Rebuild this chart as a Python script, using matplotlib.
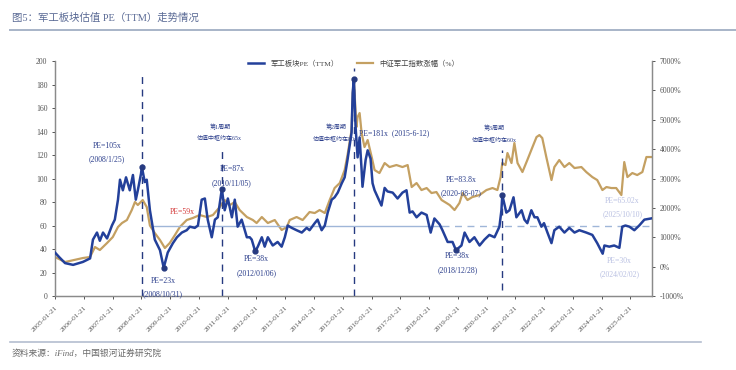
"""
军工板块估值 PE(TTM) 走势 vs 中证军工指数涨幅
"""
import matplotlib
matplotlib.use("Agg")
import matplotlib.pyplot as plt
from matplotlib.lines import Line2D

plt.rcParams['font.family'] = ['Liberation Serif', 'Noto Sans CJK SC', 'DejaVu Sans']

# 军工板块PE(TTM)：横轴为小数年份
pe_year = [2005.05, 2005.20, 2005.40, 2005.68, 2006.02, 2006.27, 2006.37, 2006.51, 2006.61, 2006.72,
           2006.86, 2007.03, 2007.13, 2007.24, 2007.31, 2007.41, 2007.52, 2007.65, 2007.76, 2007.86,
           2007.93, 2008.04, 2008.07, 2008.17, 2008.24, 2008.35, 2008.45, 2008.52, 2008.70, 2008.83,
           2008.97, 2009.15, 2009.29, 2009.46, 2009.63, 2009.74, 2009.91, 2010.02, 2010.15, 2010.26,
           2010.36, 2010.50, 2010.61, 2010.71, 2010.85, 2010.95, 2011.06, 2011.20, 2011.30, 2011.40,
           2011.54, 2011.72, 2011.82, 2011.89, 2012.01, 2012.10, 2012.24, 2012.34, 2012.45, 2012.62,
           2012.79, 2012.93, 2013.04, 2013.14, 2013.28, 2013.45, 2013.63, 2013.80, 2013.90, 2014.08,
           2014.18, 2014.32, 2014.43, 2014.53, 2014.67, 2014.77, 2014.88, 2015.02, 2015.12, 2015.22,
           2015.36, 2015.40, 2015.44, 2015.50, 2015.57, 2015.64, 2015.71, 2015.74, 2015.85, 2015.92,
           2016.02, 2016.09, 2016.16, 2016.27, 2016.40, 2016.51, 2016.61, 2016.79, 2016.96, 2017.13,
           2017.27, 2017.38, 2017.48, 2017.62, 2017.79, 2017.97, 2018.11, 2018.24, 2018.42, 2018.52,
           2018.70, 2018.87, 2018.99, 2019.18, 2019.29, 2019.46, 2019.63, 2019.81, 2019.98, 2020.15,
           2020.33, 2020.50, 2020.57, 2020.60, 2020.74, 2020.85, 2020.99, 2021.09, 2021.27, 2021.37,
           2021.47, 2021.61, 2021.72, 2021.82, 2021.96, 2022.05, 2022.17, 2022.31, 2022.41, 2022.58,
           2022.76, 2022.93, 2023.11, 2023.28, 2023.52, 2023.73, 2023.90, 2024.09, 2024.15, 2024.32,
           2024.49, 2024.67, 2024.77, 2024.88, 2025.02, 2025.19, 2025.36, 2025.54, 2025.77]
pe_value = [37, 33, 28, 26.5, 29, 32, 48, 54, 47, 54,
            49, 60, 65, 82, 99, 90, 101, 90, 103, 82,
            90, 104, 110, 97, 99, 73, 58, 48, 39, 24,
            37, 45, 50, 54, 56, 59, 58, 60, 82, 83,
            65, 50, 65, 67, 91, 73, 83, 67, 82, 59,
            65, 50, 50, 48, 38, 42, 50, 42, 50, 43,
            46, 42, 50, 60, 58, 56, 54, 58, 56, 62,
            65, 56, 60, 71, 82, 84, 88, 96, 101, 116,
            139, 173, 185, 144, 118, 135, 107, 93, 116, 124,
            117, 96, 90, 84, 77, 92, 89, 88, 83, 88,
            90, 71, 72, 67, 71, 69, 54, 66, 61, 56,
            46, 46, 39, 43, 54, 46, 50, 43, 48, 52,
            50, 59, 73, 86, 71, 73, 84, 67, 73, 65,
            62, 73, 67, 67, 59, 62, 54, 45, 56, 59,
            54, 58, 54, 56, 54, 52, 45, 36, 43, 42,
            43, 41, 59, 60, 59, 56, 60, 65, 66]

# 中证军工指数涨幅(%)
idx_year = [2005.05, 2005.40, 2006.02, 2006.27, 2006.44, 2006.61, 2006.86, 2007.06, 2007.24, 2007.38,
            2007.55, 2007.72, 2007.83, 2007.93, 2008.10, 2008.24, 2008.35, 2008.52, 2008.70, 2008.87,
            2009.04, 2009.22, 2009.39, 2009.63, 2009.84, 2010.08, 2010.33, 2010.54, 2010.78, 2010.95,
            2011.13, 2011.30, 2011.47, 2011.72, 2011.93, 2012.06, 2012.24, 2012.45, 2012.69, 2012.93,
            2013.11, 2013.21, 2013.45, 2013.66, 2013.90, 2014.08, 2014.25, 2014.43, 2014.60, 2014.77,
            2014.95, 2015.12, 2015.22, 2015.36, 2015.40, 2015.44, 2015.53, 2015.57, 2015.64, 2015.71,
            2015.81, 2015.92, 2016.06, 2016.16, 2016.33, 2016.51, 2016.68, 2016.92, 2017.13, 2017.31,
            2017.45, 2017.62, 2017.79, 2017.97, 2018.14, 2018.31, 2018.49, 2018.66, 2018.77, 2018.94,
            2019.11, 2019.22, 2019.39, 2019.56, 2019.81, 2020.05, 2020.26, 2020.43, 2020.54, 2020.60,
            2020.71, 2020.78, 2020.92, 2021.02, 2021.13, 2021.30, 2021.47, 2021.65, 2021.79, 2021.89,
            2021.99, 2022.13, 2022.31, 2022.41, 2022.58, 2022.76, 2022.93, 2023.11, 2023.35, 2023.52,
            2023.73, 2023.90, 2024.08, 2024.22, 2024.39, 2024.56, 2024.74, 2024.84, 2024.95, 2025.12,
            2025.29, 2025.47, 2025.61, 2025.78]
idx_value = [328, 157, 293, 328, 668, 566, 804, 1008, 1349, 1485,
             1587, 1927, 2200, 2098, 2268, 2030, 1400, 1144, 906, 634,
             804, 1076, 1349, 1587, 1655, 1757, 1689, 1757, 2030, 2268,
             2098, 2200, 1927, 1689, 1587, 1485, 1689, 1485, 1587, 1247,
             1349, 1587, 1689, 1587, 1859, 1825, 1927, 1825, 2268, 2676,
             2846, 3289, 3800, 4650, 5910, 6350, 4753, 5093, 5230, 4548,
             4072, 4310, 3732, 3289, 3187, 3527, 3391, 3459, 3391, 3459,
             2710, 2846, 2608, 2676, 2506, 2540, 2268, 2166, 2098, 1927,
             2166, 2506, 2268, 2370, 2438, 2608, 2676, 2608, 3050, 3527,
             3459, 3868, 3527, 4208, 3527, 3221, 3629, 4072, 4412, 4480,
             4378, 3732, 2948, 3391, 3629, 3391, 3527, 3357, 3391, 3221,
             3050, 2948, 2608, 2710, 2676, 2676, 2438, 3561, 3050, 3187,
             3119, 3221, 3732, 3732]

# 标注的极值点
mark_year = [2008.07, 2008.83, 2010.85, 2012.01, 2015.44, 2018.99, 2020.60]
tick_years = list(range(2005, 2026))
tick_labels = [f"{y}-01-21" for y in tick_years]

BLUE = "#23409a"
GOLD = "#c4a062"
NAVY = "#263a80"
TXT = "#2c3f8c"
FADE = "#b9c0e2"

fig = plt.figure(figsize=(7.36, 3.70), dpi=100)
ax = fig.add_axes([0.0747, 0.2, 0.811, 0.635])
ax2 = ax.twinx()

ax2.plot(idx_year, idx_value, color=GOLD, lw=1.6, zorder=2)
ax.plot(pe_year, pe_value, color=BLUE, lw=1.8, zorder=3)
ax.set_zorder(ax2.get_zorder() + 1)
ax.patch.set_visible(False)

mark_pe = [pe_value[pe_year.index(y)] for y in mark_year]
ax.plot(mark_year, mark_pe, 'o', color=NAVY, ms=3.5, zorder=4)

# 60x 中枢线
ax.plot([2008.5, 2018.5], [60, 60], color="#9fb6d8", lw=1.0, zorder=1)
ax.plot([2018.5, 2025.75], [60, 60], color="#9fb6d8", lw=1.0, ls=(0, (5, 4)), zorder=1)

# 周期竖线
dash = (0, (5, 4))
ax.plot([2008.07, 2008.07], [0, 188], color=NAVY, lw=1.0, ls=dash, zorder=1)
ax.plot([2010.85, 2010.85], [0, 124], color=NAVY, lw=1.0, ls=dash, zorder=1)
ax.plot([2015.44, 2015.44], [0, 194], color=NAVY, lw=1.0, ls=dash, zorder=1)
ax.plot([2020.60, 2020.60], [5, 124], color=NAVY, lw=1.0, ls=dash, zorder=1)

fs = 5.6
kw = dict(ha='center', va='center', fontsize=fs, color=TXT, linespacing=1.9)
ax.text(2006.86, 122, "PE=105x\n(2008/1/25)", **kw)
ax.text(2008.80, 7, "PE=23x\n(2008/10/31)", **kw)
ax.text(2009.46, 71.5, "PE=59x", ha='center', va='center', fontsize=fs, color="#d43a3a")
ax.text(2010.78, 139.5, "第1周期\n估值中枢约在65x", ha='center', va='center', fontsize=4.3,
        color=TXT, linespacing=2.0)
ax.text(2011.20, 102, "PE=87x\n(2010/11/05)", **kw)
ax.text(2012.06, 25.5, "PE=38x\n(2012/01/06)", **kw)
ax.text(2014.81, 139, "第2周期\n估值中枢约在80x", ha='center', va='center', fontsize=4.3,
        color=TXT, linespacing=2.0)
ax.text(2015.62, 139, "PE=181x  (2015-6-12)", ha='left', va='center', fontsize=fs, color=TXT)
ax.text(2019.04, 28, "PE=38x\n(2018/12/28)", **kw)
ax.text(2019.18, 93, "PE=83.8x\n(2020-08-07)", **kw)
ax.text(2020.33, 138, "第3周期\n估值中枢约在60x", ha='center', va='center', fontsize=4.3,
        color=TXT, linespacing=2.0)
ax.text(2024.77, 75, "PE=65.02x\n(2025/10/10)", ha='center', va='center', fontsize=fs,
        color=FADE, linespacing=1.9)
ax.text(2024.67, 24, "PE=30x\n(2024/02/02)", ha='center', va='center', fontsize=fs,
        color=FADE, linespacing=1.9)

ax.set_xlim(2005.05, 2025.8)
ax.set_ylim(0, 200)
ax.set_yticks(range(0, 201, 20))
ax2.set_ylim(-1000, 7000)
ax2.set_yticks(range(-1000, 7001, 1000))
ax2.set_yticklabels([f"{v}%" for v in range(-1000, 7001, 1000)])
ax.set_xticks([y + 0.055 for y in tick_years])
ax.set_xticklabels(tick_labels, rotation=45, ha='right', rotation_mode='anchor')

for a in (ax, ax2):
    a.spines['top'].set_visible(False)
    for s in ('left', 'right', 'bottom'):
        a.spines[s].set_color("#8a8a8a")
        a.spines[s].set_linewidth(0.9)
    a.tick_params(labelsize=5.6, colors="#555555", length=2.5, width=0.7, pad=3)
ax.tick_params(axis='x', labelsize=5.3, pad=4)

handles = [Line2D([], [], color=BLUE, lw=1.8), Line2D([], [], color=GOLD, lw=1.6)]
ax.legend(handles, ["军工板块PE（TTM）", "中证军工指数涨幅（%）"], loc='upper center',
          bbox_to_anchor=(0.5, 1.035), ncol=2, frameon=False, fontsize=5.3,
          handlelength=2.2, columnspacing=2.5, labelcolor="#444444")

# 标题与来源
fig.text(0.016, 0.952, "图5：军工板块估值 PE（TTM）走势情况", fontsize=7.5, color="#5a6a95",
         va='center')
fig.add_artist(Line2D([0.014, 1.0], [0.918, 0.918], color="#a8b4c8", lw=1.4))
fig.add_artist(Line2D([0.014, 0.952], [0.075, 0.075], color="#b4bed0", lw=1.2))
fig.text(0.016, 0.045, "资料来源：iFind，中国银河证券研究院", fontsize=6.3, color="#6a6a6a",
         style='italic', va='center')

fig.savefig("out.png", dpi=100, facecolor='white')
